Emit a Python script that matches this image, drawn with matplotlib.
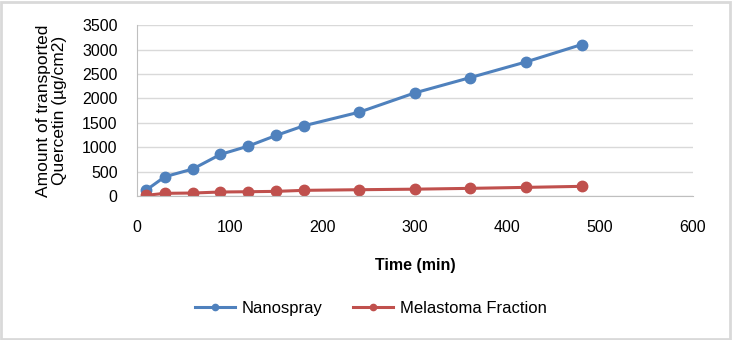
import matplotlib.pyplot as plt
from matplotlib.patches import Rectangle

plt.rcParams['font.family'] = ['Liberation Sans', 'DejaVu Sans']

time_min = [10, 30, 60, 90, 120, 150, 180, 240, 300, 360, 420, 480]
nanospray = [123, 395, 552, 852, 1022, 1240, 1438, 1718, 2113, 2427, 2747, 3102]
melastoma = [14, 55, 61, 82, 88, 95, 116, 129, 140, 157, 177, 198]

fig = plt.figure(figsize=(7.33, 3.40), dpi=100)
ax = fig.add_axes([0.187, 0.4235, 0.758, 0.5025])

ax.plot(time_min, nanospray, color='#4f81bd', lw=2.2, marker='o', ms=7.5,
        label='Nanospray')
ax.plot(time_min, melastoma, color='#c0504d', lw=2.2, marker='o', ms=7.5,
        label='Melastoma Fraction')

ax.set_xlim(0, 600)
ax.set_ylim(0, 3500)
ax.set_xticks(range(0, 601, 100))
ax.set_yticks(range(0, 3501, 500))
ax.grid(axis='y', color='#d9d9d9', lw=1)
ax.set_axisbelow(True)
for s in ['top', 'right']:
    ax.spines[s].set_visible(False)
for s in ['left', 'bottom']:
    ax.spines[s].set_color('#bfbfbf')
ax.tick_params(length=0, labelsize=11.5)
ax.tick_params(axis='x', pad=17)
ax.tick_params(axis='y', pad=14)

ax.set_xlabel('Time (min)', fontsize=11.5, fontweight='bold', labelpad=17)
ax.set_ylabel('Amount of transported\nQuercetin (µg/cm2)', fontsize=12.5,
              labelpad=11, linespacing=1.1)

fig.legend(loc='center', bbox_to_anchor=(0.506, 0.094), ncol=2, frameon=False,
           fontsize=12, handlelength=2.4, handletextpad=0.4, columnspacing=1.8,
           markerscale=0.6)

fig.patches.append(Rectangle((0.002, 0.004), 0.994, 0.99, transform=fig.transFigure,
                             fill=False, edgecolor='#d9d9d9', lw=2))

fig.savefig('out.png', dpi=100)
